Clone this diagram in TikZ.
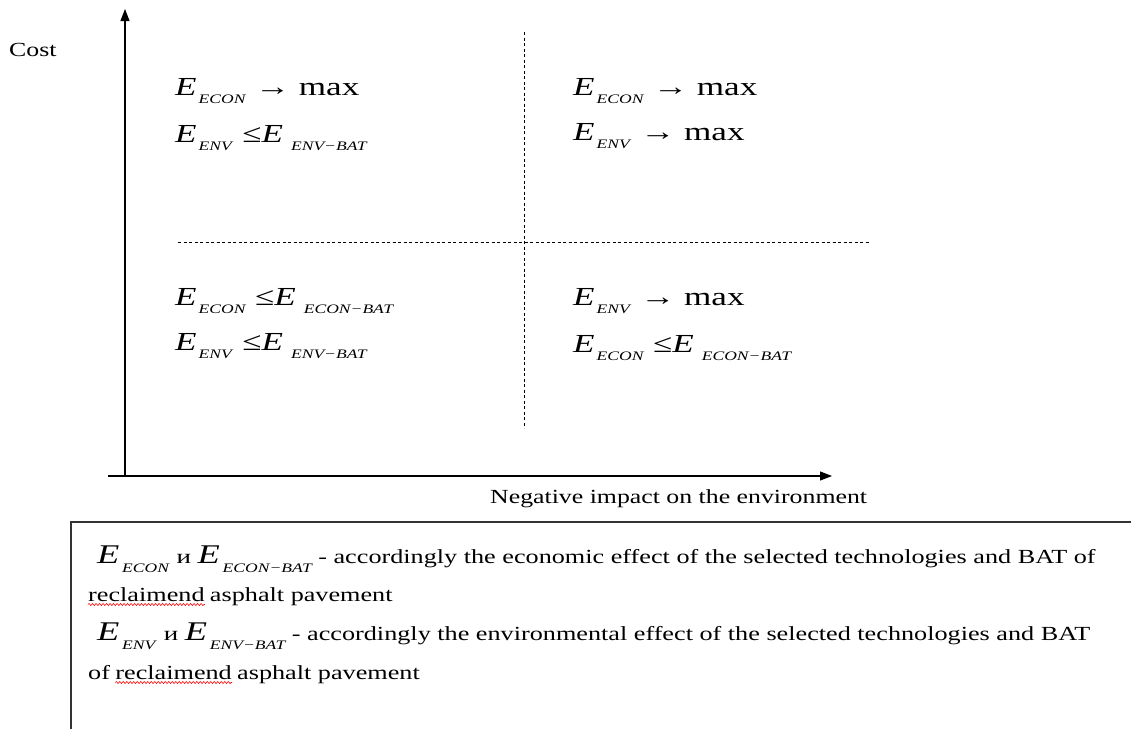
\documentclass[tikz,border=0pt]{standalone}
\usepackage{fontspec}
\setmainfont{Liberation Serif}
\usetikzlibrary{arrows.meta,decorations.pathmorphing}
\newcommand\sx[1]{\scalebox{1.35}[1]{#1}}
\newcommand\tx[1]{\scalebox{1.29}[1]{#1}}
\newcommand\bx[1]{\scalebox{1.31}[1]{#1}}
\newcommand\EEsub[1]{\textit{E}\hspace{1.5pt}\raisebox{-8pt}{\fontsize{13}{14}\selectfont\textit{#1}}}
\newcommand\EEsubb[1]{\textit{E}\hspace{6pt}\raisebox{-8pt}{\fontsize{13}{14}\selectfont\textit{#1}}}
\newcommand\bigE[1]{{\fontsize{27}{30}\selectfont\textit{E}\hspace{2pt}\raisebox{-9pt}{\fontsize{13}{14}\selectfont\textit{#1}}}}
\tikzset{
  axis/.style={line width=1.1pt, -{Triangle[length=12pt,width=9pt]}},
  gridline/.style={line width=0.7pt, dash pattern=on 3pt off 2.5pt},
  lbl/.style={inner sep=0pt, anchor=base west, font=\fontsize{20}{24}\selectfont},
  fml/.style={inner sep=0pt, anchor=base west, font=\fontsize{26}{30}\selectfont},
  wave/.style={red, line width=0.6pt, decorate, decoration={snake, amplitude=1pt, segment length=3.5pt}},
  legendbox/.style={draw=black!80, line width=1.3pt},
}
\begin{document}
\begin{tikzpicture}[x=1pt,y=-1pt]
\useasboundingbox (0,0) rectangle (1131,728);
\clip (0,0) rectangle (1131,728);
% axes
\coordinate (yb) at (125,476);
\coordinate (yt) at (125,9);
\coordinate (xl) at (108,476);
\coordinate (xr) at (832,476);
\draw[axis] (yb) -- (yt);
\draw[axis] (xl) -- (xr);
% dashed quadrant lines
\coordinate (vt) at (524,32);
\coordinate (vb) at (524,428);
\coordinate (hl) at (178,242);
\coordinate (hr) at (870,242);
\draw[gridline] (vt) -- (vb);
\draw[gridline] (hl) -- (hr);
% axis labels
\node[lbl] (cost) at (9,56) {\tx{Cost}};
\node[lbl] (neg) at (490,503) {\tx{Negative impact on the environment}};
% quadrant formulas
\node[fml] (tl1) at (175,95) {\sx{\EEsub{ECON} → max}};
\node[fml] (tl2) at (175,142) {\sx{\EEsub{ENV} ≤\EEsubb{ENV−BAT}}};
\node[fml] (tr1) at (573,95) {\sx{\EEsub{ECON} → max}};
\node[fml] (tr2) at (573,140) {\sx{\EEsub{ENV} → max}};
\node[fml] (bl1) at (175,305) {\sx{\EEsub{ECON} ≤\EEsubb{ECON−BAT}}};
\node[fml] (bl2) at (175,350) {\sx{\EEsub{ENV} ≤\EEsubb{ENV−BAT}}};
\node[fml] (br1) at (573,305) {\sx{\EEsub{ENV} → max}};
\node[fml] (br2) at (573,352) {\sx{\EEsub{ECON} ≤\EEsubb{ECON−BAT}}};
% legend box
\coordinate (bx1) at (71,522);
\coordinate (bx2) at (1145,745);
\draw[legendbox] (bx1) rectangle (bx2);
\node[lbl] (b1f) at (97,563) {\sx{\bigE{ECON} и \bigE{ECON−BAT}}};
\node[lbl] (b1t) at ([xshift=5pt]b1f.base east) {\bx{- accordingly the economic effect of the selected technologies and BAT of}};
\node[lbl] (b2a) at (88,601) {\bx{reclaimend}};
\node[lbl] (b2b) at ([xshift=5pt]b2a.base east) {\bx{asphalt pavement}};
\node[lbl] (b3f) at (97,640) {\sx{\bigE{ENV} и \bigE{ENV−BAT}}};
\node[lbl] (b3t) at ([xshift=5pt]b3f.base east) {\bx{- accordingly the environmental effect of the selected technologies and BAT}};
\node[lbl] (b4a) at (88,679) {\bx{of}};
\node[lbl] (b4b) at ([xshift=5pt]b4a.base east) {\bx{reclaimend}};
\node[lbl] (b4c) at ([xshift=5pt]b4b.base east) {\bx{asphalt pavement}};
\draw[wave] ([yshift=-3.5pt]b2a.base west) -- ([yshift=-3.5pt]b2a.base east);
\draw[wave] ([yshift=-3.5pt]b4b.base west) -- ([yshift=-3.5pt]b4b.base east);
\end{tikzpicture}
\end{document}
